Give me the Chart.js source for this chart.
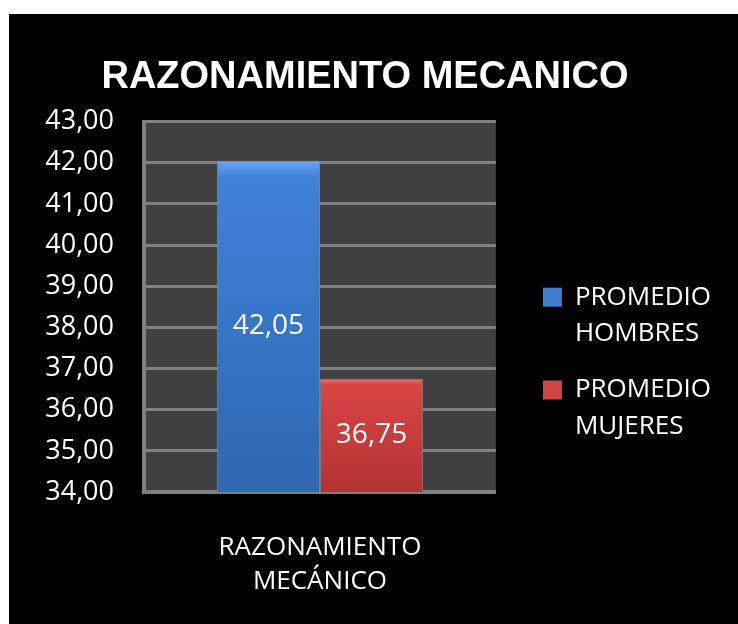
<!DOCTYPE html>
<html>
<head>
<meta charset="utf-8">
<script src="https://cdn.jsdelivr.net/npm/chart.js@4.4.1/dist/chart.umd.min.js"></script>
<style>
  html, body { margin: 0; padding: 0; background: #ffffff; }
  #wrap { position: absolute; left: 9px; top: 14px; width: 729px; height: 610px; background: #000000; }
  #box { position: relative; width: 729px; height: 610px; }
</style>
</head>
<body>
<div id="wrap"><div id="box"><canvas id="chart"></canvas></div></div>
<script>
// --- data ---
const categories = [['RAZONAMIENTO', 'MECÁNICO']];
const seriesNames = [['PROMEDIO', 'HOMBRES'], ['PROMEDIO', 'MUJERES']];
const hombres = [42.05];
const mujeres = [36.75];
const yMin = 34;
const yMax = 43;

// --- colours ---
const blueStops = ['#6aa8f0', '#3f82d8', '#2f67b2'], blueLegend = '#3f7cd0';
const redStops = ['#f07070', '#d94545', '#b53232'], redLegend = '#d04444';
const gridGray = '#808080';
const plotBg = '#404040';
const font = 'Open Sans';

const fmt = v => Number(v).toFixed(2).replace('.', ',');

// vertical gradient from the bar's top down to the bottom of the plot
function grad(stops) {
    return ctx => {
        const area = ctx.chart.chartArea;
        if (!area || ctx.raw == null) return stops[1];
        const top = ctx.chart.scales.y.getPixelForValue(ctx.raw);
        const g = ctx.chart.ctx.createLinearGradient(0, top, 0, area.bottom);
        g.addColorStop(0, stops[0]);
        g.addColorStop(0.05, stops[1]);
        g.addColorStop(1, stops[2]);
        return g;
    };
}

// dark wall behind the bars
const plotBackground = {
    id: 'plotBackground',
    beforeDraw(chart) {
        const { ctx, chartArea: a } = chart;
        ctx.save();
        ctx.fillStyle = plotBg;
        ctx.fillRect(a.left, a.top, a.right - a.left, a.bottom - a.top);
        ctx.restore();
    }
};

// value labels in the middle of the visible part of each bar
const valueLabels = {
    id: 'valueLabels',
    afterDatasetsDraw(chart) {
        const ctx = chart.ctx;
        const bottom = chart.chartArea.bottom;
        ctx.save();
        ctx.fillStyle = '#ffffff';
        ctx.font = '28px "' + font + '"';
        ctx.textAlign = 'center';
        ctx.textBaseline = 'middle';
        chart.data.datasets.forEach((ds, i) => {
            chart.getDatasetMeta(i).data.forEach((bar, j) => {
                const p = bar.getProps(['x', 'y', 'base'], true);
                ctx.fillText(fmt(ds.data[j]), p.x, (p.y + Math.min(p.base, bottom)) / 2);
            });
        });
        ctx.restore();
    }
};

const legendColors = [blueLegend, redLegend];

new Chart(document.getElementById('chart').getContext('2d'), {
    type: 'bar',
    data: {
        labels: categories,
        datasets: [
            { label: seriesNames[0], data: hombres, backgroundColor: grad(blueStops), borderColor: '#7a8a9a', borderWidth: 1 },
            { label: seriesNames[1], data: mujeres, backgroundColor: grad(redStops), borderColor: '#8a7a7a', borderWidth: 1 }
        ]
    },
    options: {
        responsive: true,
        maintainAspectRatio: false,
        animation: false,
        layout: { padding: { left: 0, right: 17, bottom: 0, top: 0 } },
        datasets: { bar: { categoryPercentage: 0.586, barPercentage: 1 } },
        scales: {
            y: {
                min: yMin, max: yMax,
                ticks: { stepSize: 1, color: '#ffffff', padding: 30, font: { family: font, size: 27 }, callback: v => fmt(v) },
                grid: { color: gridGray, lineWidth: 3, drawTicks: false },
                border: { color: gridGray, width: 4 },
                afterFit: s => { s.width = 135; }
            },
            // empty right-hand axis, only keeps a gap between the plot and the legend
            y2: {
                position: 'right',
                min: yMin, max: yMax,
                ticks: { display: false },
                grid: { display: false, drawTicks: false },
                border: { display: false },
                afterFit: s => { s.width = 27; }
            },
            x: {
                ticks: { color: '#ffffff', padding: 39, font: { family: font, size: 26, lineHeight: 1.3 } },
                grid: { display: false, drawTicks: false },
                border: { color: gridGray, width: 4 },
                afterFit: s => { s.height = 132; }
            }
        },
        plugins: {
            title: {
                display: true,
                text: 'RAZONAMIENTO MECANICO',
                color: '#ffffff',
                font: { family: 'Liberation Sans', size: 38, weight: 'bold', lineHeight: 1.2 },
                padding: { top: 41, bottom: 21 }
            },
            legend: {
                position: 'right',
                maxWidth: 240,
                title: { display: true, text: ' ', padding: 0, font: { size: 80, lineHeight: 1.2 } },
                labels: {
                    color: '#ffffff',
                    boxWidth: 19,
                    boxHeight: 19,
                    padding: 20,
                    font: { family: font, size: 26, lineHeight: 1.4 },
                    generateLabels: chart => chart.data.datasets.map((ds, i) => ({
                        text: ds.label,
                        fillStyle: legendColors[i],
                        strokeStyle: legendColors[i],
                        lineWidth: 0,
                        fontColor: '#ffffff',
                        datasetIndex: i
                    }))
                }
            },
            tooltip: { enabled: false }
        }
    },
    plugins: [plotBackground, valueLabels]
});
</script>
</body>
</html>
